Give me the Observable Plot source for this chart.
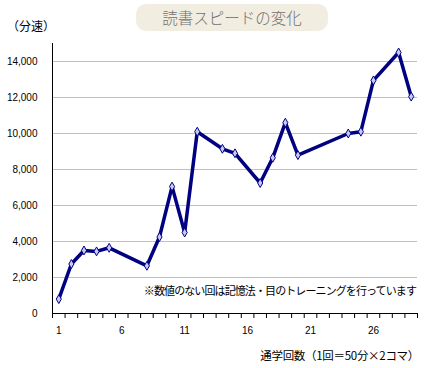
<!DOCTYPE html>
<html>
<head>
<meta charset="utf-8">
<script src="https://cdn.jsdelivr.net/npm/d3@7"></script>
<script src="https://cdn.jsdelivr.net/npm/@observablehq/plot@0.6"></script>
<style>
  html, body { margin: 0; padding: 0; background: #fff; }
  #wrap { position: relative; width: 432px; height: 368px; overflow: hidden; font-family: "Noto Sans CJK JP", sans-serif; }
  #wrap svg { position: absolute; left: 0; top: 0; }
  .lbl { position: absolute; white-space: nowrap; color: #000; line-height: 1; }
  #title { position: absolute; left: 136px; top: 4px; width: 192px; height: 27px; border-radius: 10px;
           background: #f2ede1; color: #707070; font-size: 15.5px; line-height: 27px; text-align: center; font-weight: 300; }
</style>
</head>
<body>
<div id="wrap">
  <div id="title">読書スピードの変化</div>
  <div class="lbl" id="yl" style="left:7px; top:20px; font-size:12px;">（分速）</div>
  <div class="lbl" id="note" style="right:16px; top:285px; font-size:11px; letter-spacing:-0.9px;">※数値のない回は記憶法・目のトレーニングを行っています</div>
  <div class="lbl" id="xl" style="right:13px; top:350px; font-size:11.5px; letter-spacing:-0.3px;">通学回数（1回＝50分×2コマ）</div>
</div>
<script>
const sessions = [1, 2, 3, 4, 5, 8, 9, 10, 11, 12, 14, 15, 17, 18, 19, 20, 24, 25, 26, 28, 29];
const speeds = [800, 2750, 3500, 3450, 3650, 2650, 4250, 7050, 4500, 10100, 9150, 8900, 7250, 8650, 10600, 8800, 10000, 10100, 12950, 14500, 12050];
const xTickLabels = [1, 6, 11, 16, 21, 26];
const yTickValues = [0, 2000, 4000, 6000, 8000, 10000, 12000, 14000];
const categoryCount = 29;

const data = sessions.map((s, i) => ({session: s, speed: speeds[i]}));
const boundaries = d3.range(0, categoryCount + 1).map(k => k + 0.5);

const chart = Plot.plot({
  width: 432,
  height: 368,
  marginLeft: 52,
  marginRight: 15,
  marginTop: 43,
  marginBottom: 55,
  style: {fontFamily: "'Liberation Sans', Arial, sans-serif", fontSize: "10px", color: "#000", background: "transparent"},
  x: {domain: [0.5, categoryCount + 0.5]},
  y: {domain: [0, 15000]},
  marks: [
    Plot.gridY(yTickValues.filter(v => v > 0), {stroke: "#c0c0c0", strokeOpacity: 1}),
    Plot.axisY(yTickValues, {tickSize: 0, tickPadding: 15, tickFormat: d3.format(","), label: null, fontSize: 10}),
    Plot.axisX(boundaries, {tickSize: 5, tickFormat: () => "", label: null, stroke: "#000"}),
    Plot.axisX(xTickLabels, {tickSize: 0, tickPadding: 13, label: null, fontSize: 10}),
    Plot.ruleX([0.5], {stroke: "#000"}),
    Plot.ruleY([0], {stroke: "#000"}),
    Plot.line(data, {x: "session", y: "speed", stroke: "#000080", strokeWidth: 3.5, strokeLinejoin: "round"}),
    Plot.dot(data, {x: "session", y: "speed", symbol: "diamond", r: 2.7, fill: "#c8c8f8", stroke: "#000080", strokeWidth: 1})
  ]
});
document.getElementById("wrap").prepend(chart);
</script>
</body>
</html>
